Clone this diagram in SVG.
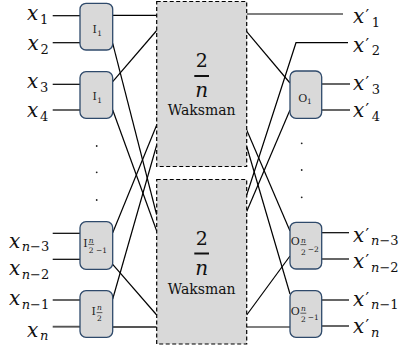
<svg xmlns="http://www.w3.org/2000/svg" width="403" height="352" viewBox="0 0 403 352">
  <style>
    .wire { stroke: #000; stroke-width: 1.2; fill: none; }
    .wire-g { stroke: #555; stroke-width: 1.9; fill: none; }
    .wak { fill: #d9d9d9; stroke: #000; stroke-width: 1.2; stroke-dasharray: 4 2.5; }
    .sw { fill: #d9d9d9; stroke: #2f4a6b; stroke-width: 1.3; }
    .mi { font-family: "DejaVu Serif", "Liberation Serif", serif; font-style: italic; font-size: 20px; fill: #111; }
    .sub { font-family: "DejaVu Serif", "Liberation Serif", serif; font-size: 13px; fill: #111; }
    .subi { font-style: italic; }
    .pr { font-family: "DejaVu Serif", "Liberation Serif", serif; font-size: 16px; fill: #111; }
    .bl { font-family: "DejaVu Serif", "Liberation Serif", serif; font-size: 11px; fill: #222; }
    .bs { font-family: "DejaVu Serif", "Liberation Serif", serif; font-size: 7.5px; fill: #222; }
    .bsi { font-family: "DejaVu Serif", "Liberation Serif", serif; font-size: 7.5px; font-style: italic; fill: #222; }
    .num { font-family: "DejaVu Serif", "Liberation Serif", serif; font-size: 19px; fill: #111; text-anchor: middle; }
    .den { font-family: "DejaVu Serif", "Liberation Serif", serif; font-size: 20px; font-style: italic; fill: #111; text-anchor: middle; }
    .wk { font-family: "DejaVu Serif", "Liberation Serif", serif; font-size: 14px; fill: #111; text-anchor: middle; }
    .bar { stroke: #111; stroke-width: 2; }
    .fbar { stroke: #222; stroke-width: 0.7; }
    .dot { fill: #222; }
  </style>

  <!-- connectors -->
  <g id="connectors">
    <!-- input lines -->
    <line class="wire" x1="52.7" y1="15.7" x2="80" y2="15.7"/>
    <line class="wire" x1="52.7" y1="42.7" x2="80" y2="42.7"/>
    <line class="wire" x1="52.7" y1="84.3" x2="80" y2="84.3"/>
    <line class="wire" x1="52.7" y1="110" x2="80" y2="110"/>
    <line class="wire" x1="52.7" y1="233.3" x2="80" y2="233.3"/>
    <line class="wire" x1="52.7" y1="259.3" x2="80" y2="259.3"/>
    <line class="wire" x1="52.7" y1="300" x2="80" y2="300"/>
    <line class="wire-g" x1="52.7" y1="326.7" x2="80" y2="326.7"/>

    <!-- input switches to subnetworks -->
    <line class="wire" x1="112.7" y1="15.3" x2="156.7" y2="15.3"/>
    <line class="wire" x1="112.7" y1="43.3" x2="156.7" y2="215"/>
    <line class="wire" x1="112.7" y1="81.7" x2="156.7" y2="30.5"/>
    <line class="wire" x1="112.7" y1="110" x2="156.7" y2="231"/>
    <line class="wire" x1="112.7" y1="232.7" x2="156.7" y2="125"/>
    <line class="wire" x1="112.7" y1="264.3" x2="156.7" y2="315"/>
    <line class="wire" x1="112.7" y1="299" x2="156.7" y2="145"/>
    <line class="wire-g" x1="112.7" y1="327" x2="156.7" y2="327"/>

    <!-- subnetworks to output switches -->
    <line class="wire" x1="246.7" y1="14" x2="343" y2="14"/>
    <line class="wire" x1="246.7" y1="31.7" x2="290" y2="83"/>
    <line class="wire" x1="246.7" y1="130" x2="290" y2="231"/>
    <line class="wire" x1="246.7" y1="146.5" x2="290" y2="294"/>
    <polyline class="wire" points="246.7,195 296,42.7 348,42.7"/>
    <line class="wire" x1="246.7" y1="211.5" x2="290" y2="110"/>
    <line class="wire" x1="246.7" y1="315" x2="290" y2="256"/>
    <line class="wire" x1="246.7" y1="327" x2="290" y2="327"/>

    <!-- output lines -->
    <line class="wire" x1="321.7" y1="84" x2="350" y2="84"/>
    <line class="wire" x1="321.7" y1="110" x2="350" y2="110"/>
    <line class="wire" x1="321.7" y1="232.7" x2="349" y2="232.7"/>
    <line class="wire" x1="321.7" y1="259" x2="349" y2="259"/>
    <line class="wire" x1="321.7" y1="300" x2="349" y2="300"/>
    <line class="wire" x1="321.7" y1="326" x2="349" y2="326"/>
  </g>

  <!-- upper half-size subnetwork -->
  <g id="waksman-top">
    <rect class="wak" x="156.7" y="1.5" width="90" height="165"/>
    <text class="num" x="201.7" y="66.7">2</text>
    <line class="bar" x1="194.3" y1="76" x2="209" y2="76"/>
    <text class="den" x="201.7" y="96.7">n</text>
    <text class="wk" x="201.7" y="115">Waksman</text>
  </g>

  <!-- lower half-size subnetwork -->
  <g id="waksman-bottom">
    <rect class="wak" x="156.7" y="179.5" width="90" height="164.5"/>
    <text class="num" x="201.7" y="245">2</text>
    <line class="bar" x1="194.3" y1="253.5" x2="209" y2="253.5"/>
    <text class="den" x="201.7" y="275">n</text>
    <text class="wk" x="201.7" y="294">Waksman</text>
  </g>

  <!-- input switches -->
  <g id="in-1">
    <rect class="sw" x="80" y="3.3" width="32.7" height="46.7" rx="6"/>
    <text class="bl" x="92.5" y="33">I</text>
    <text class="bs" x="97.3" y="35.5">1</text>
  </g>
  <g id="in-2">
    <rect class="sw" x="80" y="71.7" width="32.7" height="46.6" rx="6"/>
    <text class="bl" x="92.5" y="100">I</text>
    <text class="bs" x="97.3" y="102.5">1</text>
  </g>
  <g id="in-half-minus-1">
    <rect class="sw" x="80" y="221.7" width="32.7" height="47.6" rx="6"/>
    <text class="bl" x="83.3" y="246.7">I</text>
    <text class="bsi" x="91.2" y="242.5" text-anchor="middle">n</text>
    <line class="fbar" x1="88.3" y1="244.4" x2="94.2" y2="244.4"/>
    <text class="bs" x="91.2" y="252.5" text-anchor="middle">2</text>
    <text class="bs" x="96" y="252.5">−1</text>
  </g>
  <g id="in-half">
    <rect class="sw" x="80" y="290.7" width="32.7" height="46.6" rx="6"/>
    <text class="bl" x="91.5" y="315">I</text>
    <text class="bsi" x="99.5" y="310.2" text-anchor="middle">n</text>
    <line class="fbar" x1="96.6" y1="312.6" x2="102.4" y2="312.6"/>
    <text class="bs" x="99.5" y="321" text-anchor="middle">2</text>
  </g>

  <!-- output switches -->
  <g id="out-1">
    <rect class="sw" x="290" y="71" width="31.7" height="47.3" rx="6"/>
    <text class="bl" x="298.3" y="101.7">O</text>
    <text class="bs" x="307" y="104">1</text>
  </g>
  <g id="out-half-minus-2">
    <rect class="sw" x="290" y="222.3" width="31.7" height="46.7" rx="6"/>
    <text class="bl" x="290.8" y="245">O</text>
    <text class="bsi" x="303.3" y="242.5" text-anchor="middle">n</text>
    <line class="fbar" x1="300.4" y1="244.6" x2="306.3" y2="244.6"/>
    <text class="bs" x="303.3" y="254.5" text-anchor="middle">2</text>
    <text class="bs" x="307.8" y="251.5">−2</text>
  </g>
  <g id="out-half-minus-1">
    <rect class="sw" x="290" y="290.7" width="31.7" height="46.6" rx="6"/>
    <text class="bl" x="290.8" y="315">O</text>
    <text class="bsi" x="303.3" y="310.5" text-anchor="middle">n</text>
    <line class="fbar" x1="300.4" y1="313.2" x2="306.3" y2="313.2"/>
    <text class="bs" x="303.3" y="321.5" text-anchor="middle">2</text>
    <text class="bs" x="307.8" y="319.5">−1</text>
  </g>

  <!-- ellipsis dots -->
  <g id="dots">
    <circle class="dot" cx="96.7" cy="146" r="0.9"/>
    <circle class="dot" cx="96.7" cy="172.3" r="0.9"/>
    <circle class="dot" cx="96.7" cy="200" r="0.9"/>
    <circle class="dot" cx="301.7" cy="143.3" r="0.9"/>
    <circle class="dot" cx="301.7" cy="170" r="0.9"/>
    <circle class="dot" cx="301.7" cy="197.3" r="0.9"/>
  </g>

  <!-- input labels -->
  <g id="input-labels">
    <text class="mi" x="27" y="20">x</text><text class="sub" x="40" y="23.5">1</text>
    <text class="mi" x="27.5" y="50">x</text><text class="sub" x="40.5" y="53.5">2</text>
    <text class="mi" x="27" y="88">x</text><text class="sub" x="40" y="91.5">3</text>
    <text class="mi" x="27" y="117">x</text><text class="sub" x="40" y="121">4</text>
    <text class="mi" x="9" y="248">x</text><text class="sub" x="21.7" y="250.5"><tspan class="subi">n</tspan>−3</text>
    <text class="mi" x="9" y="275">x</text><text class="sub" x="21.7" y="279"><tspan class="subi">n</tspan>−2</text>
    <text class="mi" x="9" y="305">x</text><text class="sub" x="21.7" y="309"><tspan class="subi">n</tspan>−1</text>
    <text class="mi" x="27" y="337">x</text><text class="sub" x="40" y="340"><tspan class="subi">n</tspan></text>
  </g>

  <!-- output labels -->
  <g id="output-labels">
    <text class="mi" x="353" y="23">x</text><text class="pr" x="365.5" y="21">′</text><text class="sub" x="371.7" y="26.5">1</text>
    <text class="mi" x="353" y="51.7">x</text><text class="pr" x="365.5" y="49.7">′</text><text class="sub" x="371.7" y="55">2</text>
    <text class="mi" x="353" y="90">x</text><text class="pr" x="365.5" y="88">′</text><text class="sub" x="371.7" y="94">3</text>
    <text class="mi" x="353" y="117">x</text><text class="pr" x="365.5" y="115">′</text><text class="sub" x="371.7" y="121">4</text>
    <text class="mi" x="353" y="241.7">x</text><text class="pr" x="365.5" y="239.7">′</text><text class="sub" x="371" y="245"><tspan class="subi">n</tspan>−3</text>
    <text class="mi" x="353" y="268.3">x</text><text class="pr" x="365.5" y="266.3">′</text><text class="sub" x="371" y="272"><tspan class="subi">n</tspan>−2</text>
    <text class="mi" x="353" y="306">x</text><text class="pr" x="365.5" y="304">′</text><text class="sub" x="371" y="309"><tspan class="subi">n</tspan>−1</text>
    <text class="mi" x="353" y="333">x</text><text class="pr" x="365.5" y="331">′</text><text class="sub" x="371" y="337"><tspan class="subi">n</tspan></text>
  </g>
</svg>
